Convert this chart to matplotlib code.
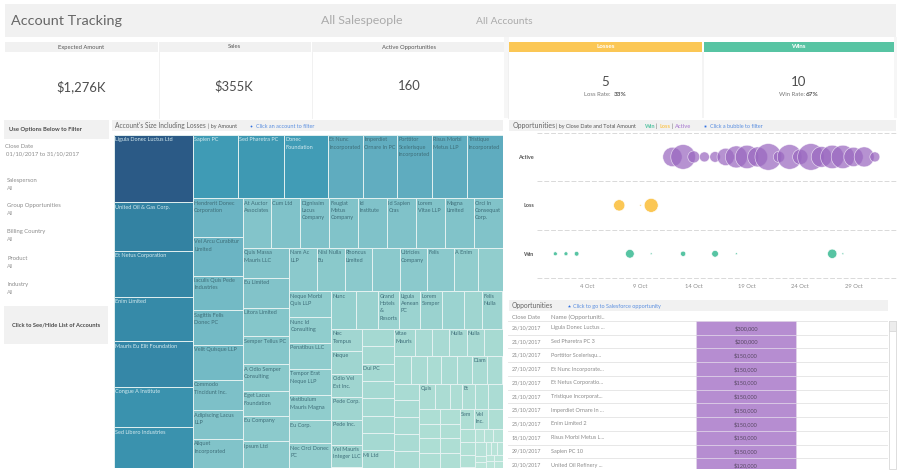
import datetime as dt
import matplotlib
matplotlib.use("Agg")
import matplotlib.pyplot as plt
import matplotlib.dates as mdates
from matplotlib.colors import LinearSegmentedColormap
from matplotlib.patches import Rectangle

plt.rcParams['font.family'] = ['Lato', 'DejaVu Sans']

W, H = 900, 473

# ---------- KPI data
expected_amount = "$1,276K"
sales_amount = "$355K"
active_opps = "160"
loss_count, loss_rate = "5", "33%"
win_count, win_rate = "10", "67%"

filter_names = ["Salesperson", "Group Opportunities", "Billing Country", "Product", "Industry"]

# ---------- Treemap data: amounts in $K, grouped as the picture nests them
col1_names = ["Ligula Donec Luctus Ltd", "United Oil & Gas Corp.", "Et Netus Corporation", "Enim Limited",
              "Mauris Eu Elit Foundation", "Congue A Institute", "Sed Libero Industries"]
col1_values = [300, 215, 206, 197, 202, 180, 179]
top_names = ["Sapien PC", "Sed Pharetra PC", "Donec\nFoundation", "Et Nunc\nIncorporated", "Imperdiet\nOrnare In PC",
             "Porttitor\nScelerisque\nIncorporated", "Risus Morbi\nMetus LLP", "Tristique\nIncorporated"]
top_values = [160, 164, 157, 125, 121, 125, 125, 125]
col2_names = ["Hendrerit Donec\nCorporation", "Vel Arcu Curabitur\nLimited", "Iaculis Quis Pede\nIndustries",
              "Sagittis Felis\nDonec PC", "Velit Quisque LLP", "Commodo\nTincidunt Inc.",
              "Adipiscing Lacus\nLLP", "Aliquet\nIncorporated"]
col2_values = [108, 108, 97, 97, 97, 85, 80, 80]
row3_names = ["At Auctor\nAssociates", "Cum Ltd", "Dignissim\nLacus\nCompany", "Feugiat\nMetus\nCompany", "Id\nInstitute",
              "Id Sapien\nCras", "Lorem\nVitae LLP", "Magna\nLimited", "Orci In\nConsequat\nCorp."]
row3_values = [78, 82, 82, 80, 81, 81, 80, 80, 80]
col3_names = ["Quis Massa\nMauris LLC", "Eu Limited", "Litora Limited", "Semper Tellus PC", "A Odio Semper\nConsulting",
              "Eget Lacus\nFoundation", "Eu Company", "Ipsum Ltd"]
col3_values = [79, 79, 74, 74, 69, 66, 66, 69]
row4_names = ["Nam Ac\nLLP", "Nisl Nulla\nEu", "Rhoncus\nLimited", "", "Ultricies\nCompany", "Felis", "A Enim", ""]
row4_values = [67, 69, 67, 67, 67, 67, 59, 59]
col4_names = ["Neque Morbi\nQuis LLP", "Nunc Id\nConsulting", "Penatibus LLC", "Tempor Erat\nNeque LLP",
              "Vestibulum\nMauris Magna", "Eu Corp.", "Nec Orci Donec\nPC"]
col4_values = [62, 60, 62, 62, 60, 55, 57]
row5_names = ["Nunc", "", "Grand\nHotels\n&\nResorts", "Ligula\nAenean\nPC", "Lorem\nSemper", "", "", "Felis\nNulla"]
row5_values = [53, 47, 45, 45, 47, 45, 40, 43]
col5_names = ["Nec\nTempus", "Neque", "Odio Vel\nEst Inc.", "Pede Corp.", "Pede Inc.", "Vel Mauris\nInteger LLC"]
col5_values = [38, 40, 40, 40, 43, 40]
col6_names = ["", "", "Dui PC", "", "", "", "", "Mi Ltd"]
col6_values = [31, 31, 31, 31, 31, 31, 31, 31]
row6_names = ["Vitae\nMauris", "", "", "Nulla", "Nulla", ""]
row6_values = [31, 26, 26, 26, 26, 28]
row7_names = ["", "", "", "", "", "Diam", ""]
row7_values = [27, 24, 23, 24, 24, 24, 24]
col7_names = ["", "", "", "", ""]
col7_values = [24, 24, 24, 24, 24]
row8_names = ["Quis", "", "", "Et", "", ""]
row8_values = [22, 22, 18, 18, 19, 21]
col8_names = ["", "", "", ""]
col8_values = [17, 17, 17, 17]
col9_names = ["", "", "", ""]
col9_values = [16, 16, 16, 16]
row9_names = ["Sem", "Vel\nInc.", ""]
row9_values = [16, 15, 16]
col10_names = ["", "", ""]
col10_values = [11, 11, 11]
row10_names = ["", "", ""]
row10_values = [7, 7, 7]
col11_names = ["", "", ""]
col11_values = [8, 4, 3]
row11_names = ["", "", ""]
row11_values = [4, 4, 4]
col12_names = ["", ""]
col12_values = [3, 3]
col13_names = ["", ""]
col13_values = [3, 3]

# ---------- Bubble data: day of October, amount in $K
active_days = [12, 13, 14, 15, 16, 17, 18, 19, 20, 21, 22, 23, 24, 25, 26, 27, 28, 29, 30, 31]
active_amounts = [307, 500, 118, 82, 93, 247, 397, 447, 328, 584, 105, 500, 193, 584, 351, 447, 447, 307, 328, 82]
loss_days = [7, 9, 10]
loss_amounts = [105, 2, 161]
win_days = [1, 2, 3, 8, 10, 13, 16, 18, 27, 28]
win_amounts = [13, 13, 18, 62, 3, 23, 37, 3, 72, 3]
stage_labels = ["Active", "Loss", "Win"]
tick_days = [4, 9, 14, 19, 24, 29]

# ---------- Table data
close_dates = ["26/10/2017", "21/10/2017", "21/10/2017", "27/10/2017", "23/10/2017", "21/10/2017",
               "25/10/2017", "25/10/2017", "18/10/2017", "29/10/2017", "20/10/2017"]
opp_names = ["Ligula Donec Luctus ...", "Sed Pharetra PC 3", "Porttitor Scelerisqu...", "Et Nunc Incorporate...",
             "Et Netus Corporatio...", "Tristique Incorporat...", "Imperdiet Ornare In ...", "Enim Limited 2",
             "Risus Morbi Metus L...", "Sapien PC 10", "United Oil Refinery ..."]
opp_amounts = [300000, 200000, 150000, 150000, 150000, 150000, 150000, 150000, 150000, 150000, 120000]

# ---------- Colours
PANEL = "#f1f1f1"
TXT = "#555555"
GREY = "#8c8c8c"
BLUE = "#5b8fe0"
PURPLE = "#9a68c0"
LEGEND_PURPLE = "#b58fd6"
YELLOW = "#fbc755"
GREEN = "#57c4a3"
CELL = "#b68dd1"

fig = plt.figure(figsize=(W / 100, H / 100), dpi=100, facecolor="white")


def axes_px(x0, y0, x1, y1, **kw):
    return fig.add_axes([x0 / W, 1 - y1 / H, (x1 - x0) / W, (y1 - y0) / H], **kw)


bg = axes_px(0, 0, W, H)
bg.set_xlim(0, W)
bg.set_ylim(H, 0)
bg.axis("off")


def box(x0, y0, x1, y1, color=PANEL, **kw):
    bg.add_patch(Rectangle((x0, y0), x1 - x0, y1 - y0, facecolor=color, edgecolor="none", **kw))


def label(x, y, s, size=4.6, color=TXT, ha="left", weight="normal", **kw):
    bg.text(x, y, s, fontsize=size, color=color, ha=ha, va="center", fontweight=weight, **kw)


# Title band
box(5, 4, 896, 37)
label(11, 21, "Account Tracking", size=10.4, color="#666666")
label(321, 21, "All Salespeople", size=8.9, color="#ababab")
label(476, 21, "All Accounts", size=7.4, color="#ababab")

# KPI panels
for x0, x1, cx, name, val in [(5, 158, 81, "Expected Amount", expected_amount),
                              (159, 311, 234, "Sales", sales_amount),
                              (312, 507, 409, "Active Opportunities", active_opps)]:
    box(x0, 42, x1, 52)
    label(cx, 47, name, size=4.25, ha="center")
    label(cx, 86.5, val, size=9.4, color="#4d4d4d", ha="center")
    bg.plot([x1 + .5, x1 + .5], [52, 118], color="#efefef", lw=0.6)
box(504, 37, 509, 118, color="#f6f6f6")
box(702, 52, 704, 118, color="#f4f4f4")
box(894, 37, 897, 118, color="#f6f6f6")

box(509, 42, 702, 52, color=YELLOW)
box(704, 42, 894, 52, color=GREEN)
label(605.5, 47, "Losses", size=4.5, color="white", ha="center", weight="bold")
label(799, 47, "Wins", size=4.5, color="white", ha="center", weight="bold")
label(605, 82, loss_count, size=9.5, color="#4d4d4d", ha="center")
label(799, 82, win_count, size=9.5, color="#4d4d4d", ha="center")
label(584, 95, "Loss Rate:", size=4.3, color="#777777")
label(613.5, 95, loss_rate, size=4.6, color="#555555", weight="bold")
label(779, 95, "Win Rate:", size=4.3, color="#777777")
label(806, 95, win_rate, size=4.6, color="#555555", weight="bold")

# Left filters
box(4, 120, 109, 139)
label(9, 129.5, "Use Options Below to Filter", size=4.25, color="#4a4a4a", weight="bold")
label(5, 146, "Close Date", size=4.2, color=GREY)
label(6, 154, "01/10/2017 to 31/10/2017", size=4.2, color=GREY)
for name, y in zip(filter_names, [180, 205, 231, 258, 284]):
    label(7, y, name, size=4.2, color=GREY)
    label(7, y + 8, "All", size=4.0, color="#a0a0a0")
box(4, 306, 108, 344)
label(56, 325, "Click to See/Hide List of Accounts", size=4.15, color="#4a4a4a", ha="center", weight="bold")

# Treemap header
box(112, 120, 503, 131)
label(115, 125.5, "Account's Size Including Losses", size=4.8, color="#666666")
label(208, 126, "| by Amount", size=3.9)
bg.plot([251], [126], "o", ms=1.3, color="#2f6fe0", mew=0)
label(256, 126, "Click an account to filter", size=4.0, color=BLUE)

# Opportunities header
box(509, 120, 896, 131)
label(513, 125.5, "Opportunities", size=5.0, color="#666666")
label(556, 126, "| by Close Date and Total Amount", size=3.9)
label(645, 126, "Win", size=4.1, color=GREEN, weight="bold")
label(656, 126, "|", size=4.1)
label(659, 126, "Loss", size=4.1, color=YELLOW, weight="bold")
label(671, 126, "|", size=4.1)
label(674, 126, "Active", size=4.1, color=LEGEND_PURPLE, weight="bold")
bg.plot([704.5], [126], "s", ms=1.3, color="#2f6fe0", mew=0)
label(710, 126, "Click a bubble to filter", size=3.95, color=BLUE)

# Table header
box(509, 300, 888, 311)
label(512, 305.5, "Opportunities", size=4.85, color="#666666")
bg.plot([568.5], [306], "*", ms=2.4, color="#2f6fe0", mew=0)
label(573, 306, "Click to go to Salesforce opportunity", size=4.0, color=BLUE)
label(512, 317, "Close Date", size=4.2, color=GREY)
label(551, 317, "Name (Opportuniti..", size=4.4, color=GREY)

# ---------- Treemap
cmap = LinearSegmentedColormap.from_list("acct", [
    (0.0, "#bbe5d9"), (0.04, "#b0dfd5"), (0.12, "#a2d7d1"), (0.2, "#90cdcd"), (0.27, "#80c2c9"),
    (0.34, "#6fb7c4"), (0.42, "#5eabbf"), (0.53, "#3f9bb5"), (0.7, "#3384a4"), (1.0, "#2b5a86")])


def group(direction, *kids):
    return (direction, kids)


def cells(direction, names, values):
    return (direction, tuple(("leaf", n, v) for n, v in zip(names, values)))


def size(node):
    if node[0] == "leaf":
        return node[2]
    return sum(size(k) for k in node[1])


tree = group("h", cells("v", col12_names, col12_values), cells("v", col13_names, col13_values))
tree = group("v", cells("h", row11_names, row11_values), tree)
tree = group("h", cells("v", col11_names, col11_values), tree)
tree = group("v", cells("h", row10_names, row10_values), tree)
tree = group("h", cells("v", col10_names, col10_values), tree)
tree = group("v", cells("h", row9_names, row9_values), tree)
tree = group("h", cells("v", col8_names, col8_values), cells("v", col9_names, col9_values), tree)
tree = group("v", cells("h", row8_names, row8_values), tree)
tree = group("h", cells("v", col7_names, col7_values), tree)
tree = group("v", cells("h", row6_names, row6_values), cells("h", row7_names, row7_values), tree)
tree = group("h", cells("v", col5_names, col5_values), cells("v", col6_names, col6_values), tree)
tree = group("v", cells("h", row5_names, row5_values), tree)
tree = group("h", cells("v", col4_names, col4_values), tree)
tree = group("v", cells("h", row4_names, row4_values), tree)
tree = group("h", cells("v", col3_names, col3_values), tree)
tree = group("v", cells("h", row3_names, row3_values), tree)
tree = group("h", cells("v", col2_names, col2_values), tree)
tree = group("v", cells("h", top_names, top_values), tree)
tree = group("h", cells("v", col1_names, col1_values), tree)

tm = axes_px(114, 135, 502.5, 467.5)
tm.set_xlim(0, 1)
tm.set_ylim(1, 0)
tm.axis("off")
TOP = 300.0


def draw(node, x, y, w, h):
    if node[0] == "leaf":
        _, name, v = node
        tm.add_patch(Rectangle((x, y), w, h, facecolor=cmap(v / TOP), edgecolor="#e6f3f2", lw=0.65))
        if name:
            col = "#d3e9ee" if v >= 150 else "#3f6f7a"
            tm.text(x + 1.2 / 388.5, y + 2.4 / 332.5, name, fontsize=4.0, color=col, va="top", ha="left",
                    linespacing=1.6)
        return
    s = size(node)
    for k in node[1]:
        f = size(k) / s
        if node[0] == "h":
            draw(k, x, y, w * f, h)
            x += w * f
        else:
            draw(k, x, y, w, h * f)
            y += h * f


draw(tree, 0, 0, 1, 1)


# ---------- Bubble chart
def oct_day(d):
    return dt.datetime(2017, 10, d)


bub = axes_px(537, 132.7, 895.7, 278)
bub.set_xlim(oct_day(1) - dt.timedelta(days=1.72), oct_day(31) + dt.timedelta(days=1.96))
bub.set_ylim(2.5, -0.5)
AREA = 0.63
for row, days, amts, c, a in [(0, active_days, active_amounts, PURPLE, 0.72),
                              (1, loss_days, loss_amounts, YELLOW, 1.0),
                              (2, win_days, win_amounts, GREEN, 1.0)]:
    bub.scatter([oct_day(d) for d in days], [row] * len(days), s=[v * AREA for v in amts], color=c, alpha=a,
                edgecolors="white", linewidths=0.45, zorder=3, clip_on=False)
for yy in [-0.5, 0.5, 1.5, 2.5]:
    bub.axhline(yy, color="#d9d9d9", lw=0.7, ls=(0, (5, 2)), zorder=1, clip_on=False)
bub.set_yticks(range(3), stage_labels, fontsize=4.0, fontweight="bold", color="#555555")
bub.set_xticks([oct_day(d) for d in tick_days])
bub.xaxis.set_major_formatter(mdates.DateFormatter("%-d %b"))
bub.tick_params(axis="both", length=0, pad=2.2)
bub.tick_params(axis="x", labelsize=4.2, labelcolor=GREY, pad=4)
for s in bub.spines.values():
    s.set_visible(False)
bub.patch.set_alpha(0)

# ---------- Table
RH = 13.73
tab = axes_px(508, 321, 888, 469)
tab.set_xlim(508, 888)
tab.set_ylim(148 / RH - 0.5, -0.5)
tab.axis("off")
rows = list(range(len(opp_amounts)))
tab.barh(rows, [100] * len(rows), left=696, height=1, color=CELL, edgecolor="#e6dcec", lw=0.4, clip_on=True)
for i in rows:
    tab.axhline(i - 0.5, color="#e7e7e7", lw=0.7, zorder=0)
    tab.text(512, i, close_dates[i], fontsize=3.85, color=GREY, va="center")
    tab.text(551, i, opp_names[i], fontsize=3.95, color=GREY, va="center")
    tab.text(746, i, f"${opp_amounts[i]:,}", fontsize=4.1, color="#5a4a66", va="center", ha="center", clip_on=True)

# Scrollbar
bg.add_patch(Rectangle((889, 321), 7, 148, facecolor="white", edgecolor="#d8d8d8", lw=0.6))
bg.add_patch(Rectangle((889, 321), 7, 10, facecolor="#ececec", edgecolor="#d8d8d8", lw=0.6))

fig.savefig("out.png", dpi=100)
